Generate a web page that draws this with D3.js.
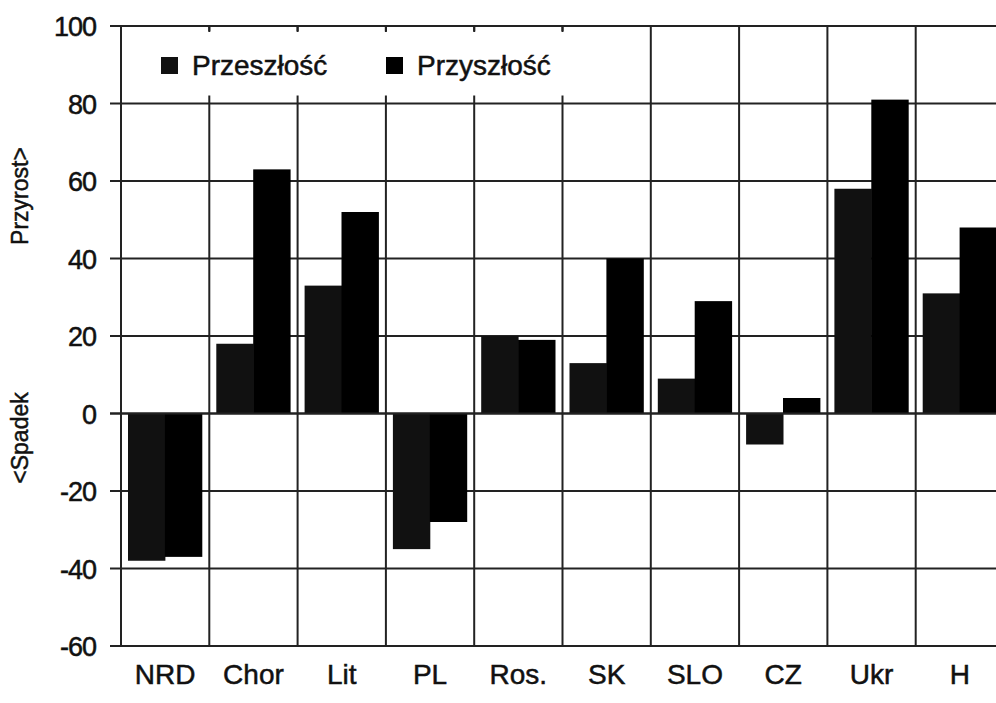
<!DOCTYPE html>
<html lang="pl">
<head>
  <meta charset="UTF-8">
  <title>Przyrost / Spadek</title>
  <script src="https://d3js.org/d3.v7.min.js"></script>
  <style>
    html, body { margin: 0; padding: 0; background: #fff; overflow: hidden; }
    svg { display: block; font-family: "Liberation Sans", Arial, Helvetica, sans-serif; }
    svg text { fill: #111; stroke: #111; stroke-width: 0.5px; }
  </style>
</head>
<body>
  <div id="chart"></div>
  <script>
    // dane
    var kraje = ['NRD', 'Chor', 'Lit', 'PL', 'Ros.', 'SK', 'SLO', 'CZ', 'Ukr', 'H'];
    var serie = ['Przeszłość', 'Przyszłość'];
    var przeszlosc = [-38, 18, 33, -35, 20, 13, 9, -8, 58, 31];
    var przyszlosc = [-37, 63, 52, -28, 19, 40, 29, 4, 81, 48];
    var yTicks = [-60, -40, -20, 0, 20, 40, 60, 80, 100];
    var kolory = ['#111111', '#000000'];

    var W = 996, H = 703;
    var margin = { top: 26, left: 121, bottom: 57 };
    var plotRight = 1004;

    var svg = d3.select('#chart').append('svg')
      .attr('width', W)
      .attr('height', H);

    var x = d3.scaleBand()
      .domain(kraje)
      .range([margin.left, plotRight])
      .padding(0);

    var x1 = d3.scaleBand()
      .domain(serie)
      .range([7, x.bandwidth() - 7.5])
      .padding(0);

    var y = d3.scaleLinear()
      .domain([-60, 100])
      .range([H - margin.bottom, margin.top]);

    var dane = kraje.map(function(k, i) {
      return { kraj: k, wartosci: [przeszlosc[i], przyszlosc[i]] };
    });

    var grid = '#222';

    // poziome linie siatki
    svg.append('g')
      .selectAll('line')
      .data(yTicks)
      .enter()
      .append('line')
      .attr('x1', margin.left - 11)
      .attr('x2', W)
      .attr('y1', function(d) { return y(d); })
      .attr('y2', function(d) { return y(d); })
      .attr('stroke', grid)
      .attr('stroke-width', 2);

    // pionowe linie siatki (granice kategorii)
    var granice = kraje.map(function(k) { return x(k); }).concat([plotRight]);
    svg.append('g')
      .selectAll('line')
      .data(granice)
      .enter()
      .append('line')
      .attr('x1', function(d) { return d; })
      .attr('x2', function(d) { return d; })
      .attr('y1', y(100))
      .attr('y2', y(-60))
      .attr('stroke', grid)
      .attr('stroke-width', 2);

    // legenda - białe tło zasłania siatkę
    var legendaX = margin.left + 1, legendaY = y(100) + 6;
    svg.append('rect')
      .attr('x', legendaX)
      .attr('y', legendaY)
      .attr('width', 640 - legendaX)
      .attr('height', y(80) - 8 - legendaY)
      .attr('fill', '#fff');

    // krótkie kreski pod górną linią
    svg.append('g')
      .selectAll('line')
      .data(granice.slice(1, 6))
      .enter()
      .append('line')
      .attr('x1', function(d) { return d; })
      .attr('x2', function(d) { return d; })
      .attr('y1', y(100))
      .attr('y2', y(100) + 5)
      .attr('stroke', grid)
      .attr('stroke-width', 2);

    var legenda = svg.append('g');
    var legPoz = [161, 386];
    serie.forEach(function(s, i) {
      legenda.append('rect')
        .attr('x', legPoz[i])
        .attr('y', 57)
        .attr('width', 17)
        .attr('height', 17)
        .attr('fill', kolory[i]);
      legenda.append('text')
        .attr('x', legPoz[i] + 31)
        .attr('y', 75)
        .attr('font-size', 28)
        .text(s);
    });

    // słupki
    var grupy = svg.append('g')
      .selectAll('g')
      .data(dane)
      .enter()
      .append('g')
      .attr('transform', function(d) { return 'translate(' + x(d.kraj) + ',0)'; });

    grupy.selectAll('rect')
      .data(function(d) {
        return d.wartosci.map(function(v, i) { return { seria: serie[i], v: v, i: i }; });
      })
      .enter()
      .append('rect')
      .attr('x', function(d) { return x1(d.seria); })
      .attr('width', x1.bandwidth() + 0.5)
      .attr('y', function(d) { return y(Math.max(0, d.v)); })
      .attr('height', function(d) { return Math.abs(y(d.v) - y(0)); })
      .attr('fill', function(d) { return kolory[d.i]; });

    // linia zera ponad słupkami
    svg.append('line')
      .attr('x1', margin.left - 11)
      .attr('x2', W)
      .attr('y1', y(0))
      .attr('y2', y(0))
      .attr('stroke', grid)
      .attr('stroke-width', 2);

    // oś Y
    var yAxis = d3.axisLeft(y)
      .tickValues(yTicks)
      .tickSize(0)
      .tickPadding(0)
      .tickFormat(function(d) { return String(d); });

    var gy = svg.append('g')
      .attr('transform', 'translate(' + (margin.left - 25) + ',0)')
      .call(yAxis);
    gy.select('.domain').remove();
    gy.selectAll('text')
      .attr('font-size', 27)
      .attr('font-family', '"Liberation Sans", Arial, sans-serif')
      .attr('letter-spacing', -1)
      .attr('dy', '0.36em');

    // oś X
    var xAxis = d3.axisBottom(x).tickSize(0).tickPadding(0);
    var gx = svg.append('g')
      .attr('transform', 'translate(0,' + (y(-60) + 18) + ')')
      .call(xAxis);
    gx.select('.domain').remove();
    gx.selectAll('text')
      .attr('font-size', 28)
      .attr('font-family', '"Liberation Sans", Arial, sans-serif')
      .attr('dy', '0.71em');

    // opisy osi Y
    svg.append('text')
      .attr('transform', 'translate(28,196) rotate(-90)')
      .attr('text-anchor', 'middle')
      .attr('font-size', 23)
      .text('Przyrost>');

    svg.append('text')
      .attr('transform', 'translate(28,438) rotate(-90)')
      .attr('text-anchor', 'middle')
      .attr('font-size', 23)
      .text('<Spadek');
  </script>
</body>
</html>
